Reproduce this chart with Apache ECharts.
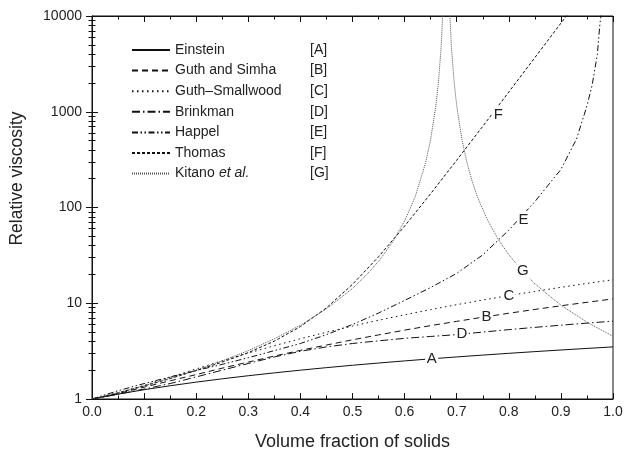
<!DOCTYPE html>
<html>
<head>
<meta charset="utf-8">
<script src="https://cdn.jsdelivr.net/npm/echarts@6/dist/echarts.min.js"></script>
<style>
html,body{margin:0;padding:0;background:#fff}
#container{width:627px;height:460px}
</style>
</head>
<body>
<div id="container"></div>
<script>
var names=['Einstein','Guth and Simha','Guth\u2013Smallwood','Brinkman','Happel','Thomas','Kitano et al.'];
var tags=['[A]','[B]','[C]','[D]','[E]','[F]','[G]'];
var letters=['A','B','C','D','E','F','G'];

// volume fraction grid for the smooth curves
var phi=[0,0.05,0.1,0.15,0.2,0.25,0.3,0.35,0.4,0.45,0.5,0.55,0.6,0.65,0.7,0.75,0.8,0.85,0.9,0.95,1.0];
var einstein=[1,1.125,1.25,1.375,1.5,1.625,1.75,1.875,2.0,2.125,2.25,2.375,2.5,2.625,2.75,2.875,3.0,3.125,3.25,3.375,3.5];
var guthSimha=[1,1.14,1.33,1.55,1.80,2.10,2.43,2.81,3.22,3.66,4.15,4.67,5.24,5.84,6.47,7.15,7.86,8.62,9.41,10.23,11.1];
var guthSmall=[1,1.16,1.39,1.69,2.06,2.51,3.02,3.60,4.26,4.98,5.78,6.64,7.58,8.58,9.66,10.81,12.02,13.31,14.67,16.10,17.6];
var brinkman=[1,1.12,1.27,1.45,1.7,2.0,2.35,2.75,3.15,3.5,3.8,4.05,4.3,4.5,4.7,5.0,5.3,5.6,5.9,6.2,6.5];

var phiE=[0,0.05,0.1,0.15,0.2,0.25,0.3,0.35,0.4,0.45,0.5,0.55,0.6,0.65,0.7,0.75,0.8,0.85,0.9,0.93,0.95,0.96,0.97,0.975,0.98];
var happel=[1,1.22,1.45,1.7,1.98,2.3,2.7,3.2,3.8,4.7,6.0,7.9,10.7,14.6,20.5,32,58,115,250,520,1150,1900,4000,8400,13000];

var phiF=[0,0.05,0.1,0.15,0.2,0.25,0.3,0.35,0.4,0.45,0.5,0.55,0.6,0.65,0.7,0.75,0.8,0.85,0.9,0.92];
var thomas=[1,1.156,1.365,1.634,1.98,2.43,3.05,4.02,5.70,8.95,15.75,30.6,63.9,139.4,311.7,705,1606,3675,8412,11713];

var phiG1=[0,0.05,0.1,0.15,0.2,0.25,0.3,0.35,0.4,0.45,0.5,0.525,0.55,0.575,0.6,0.62,0.64,0.65,0.66,0.665,0.67,0.674];
var kitano1=[1,1.165,1.375,1.646,2.007,2.50,3.20,4.25,5.90,8.74,14.27,19.3,27.4,42,72.3,128,289,514,1156,2055,4624,12800];
var phiG2=[0.686,0.69,0.695,0.7,0.71,0.72,0.73,0.74,0.76,0.78,0.8,0.825,0.85,0.875,0.9,0.95,1.0];
var kitano2=[12800,4624,2055,1156,514,289,185,128,72.3,46.2,32.1,22.1,16,12.3,9.55,6.34,4.52];

// where the curve letters sit (data coords)
var labelX=[0.652,0.757,0.80,0.71,0.828,0.78,0.827];
var labelY=[2.62,7.25,12.0,4.75,75,930,22];

// major ticks of the log axis
var yMajor=[1,10,100,1000,10000];

var dashes=['solid',[6,4],[1.5,3.5],[8,3,1.5,3],[6,2.5,1.5,2.5,1.5,2.5],[3,2],[1,1]];
var colors=['#111','#111','#111','#111','#111','#111','#555'];

function pairs(xs,ys){
    var out=[];
    for(var i=0;i<xs.length;i++) out.push([xs[i],ys[i]]);
    return out;
}

var curves=[
    pairs(phi,einstein),
    pairs(phi,guthSimha),
    pairs(phi,guthSmall),
    pairs(phi,brinkman),
    pairs(phiE,happel),
    pairs(phiF,thomas),
    pairs(phiG1,kitano1).concat([[0.68,'-']]).concat(pairs(phiG2,kitano2))
];

var series=[];
for(var i=0;i<names.length;i++){
    series.push({
        name:names[i],
        type:'line',
        data:curves[i],
        symbol:'none',
        showSymbol:false,
        smooth:false,
        connectNulls:false,
        lineStyle:{color:colors[i],width:1,type:dashes[i]},
        itemStyle:{color:colors[i]},
        markPoint:{
            z:10,
            symbol:'rect',
            symbolSize:[13,17],
            itemStyle:{color:'#fff'},
            label:{show:true,position:'inside',formatter:letters[i],color:'#222',fontSize:15,fontFamily:'Liberation Sans'},
            data:[{coord:[labelX[i],labelY[i]]}]
        }
    });
}

var font='Liberation Sans';
var dom=document.getElementById('container');
var myChart=echarts.init(dom,null,{renderer:'canvas'});

function logAxis(pos){
    return {
        type:'log',logBase:10,min:1,max:10000,position:pos,
        axisLine:{show:true,lineStyle:{color:'#111'}},
        axisTick:{show:true,inside:true,length:6,customValues:yMajor,lineStyle:{color:'#111'}},
        minorTick:{show:true,splitNumber:9,length:3.5,lineStyle:{color:'#111'}},
        splitLine:{show:false},
        axisLabel:{show:false}
    };
}

var yLeft=logAxis('left');
yLeft.name='Relative viscosity';
yLeft.nameLocation='middle';
yLeft.nameGap=66;
yLeft.nameTextStyle={fontSize:17.5,color:'#222',fontFamily:font,padding:[0,0,0,58]};
yLeft.axisLabel={show:true,fontSize:14,color:'#222',margin:10,customValues:yMajor,
    formatter:function(v){return String(Math.round(v));}};

var option={
    animation:false,
    backgroundColor:'#fff',
    textStyle:{fontFamily:font},
    grid:{left:91,right:14,top:16,bottom:61,show:true,borderColor:'#111',borderWidth:1},
    legend:{
        orient:'vertical',
        left:131,
        top:43,
        padding:0,
        itemWidth:38,
        itemHeight:14,
        itemGap:6.6,
        data:names,
        itemStyle:{color:'transparent',borderColor:'transparent',borderWidth:0},
        textStyle:{fontSize:14,color:'#222',fontFamily:font,
            rich:{
                n:{width:135,fontSize:14,color:'#222',fontFamily:font},
                k:{width:44,fontSize:14,color:'#222',fontFamily:font},
                it:{width:91,fontSize:14,color:'#222',fontStyle:'italic',fontFamily:font},
                t:{fontSize:14,color:'#222',fontFamily:font}
            }
        },
        formatter:function(name){
            var i=names.indexOf(name);
            if(name==='Kitano et al.') return '{k|Kitano }{it|et al.}{t|'+tags[i]+'}';
            return '{n|'+name+'}{t|'+tags[i]+'}';
        }
    },
    xAxis:[{
        type:'value',min:0,max:1,interval:0.1,
        name:'Volume fraction of solids',nameLocation:'middle',nameGap:34,
        nameTextStyle:{fontSize:18,color:'#222',fontFamily:font},
        axisLine:{lineStyle:{color:'#111'}},
        axisTick:{inside:true,length:6,lineStyle:{color:'#111'}},
        minorTick:{show:true,splitNumber:2,length:3.5,lineStyle:{color:'#111'}},
        splitLine:{show:false},
        axisLabel:{fontSize:14,color:'#222',margin:6,formatter:function(v){return v.toFixed(1);}}
    },{
        type:'value',min:0,max:1,interval:0.1,position:'top',
        axisLine:{lineStyle:{color:'#111'}},
        axisTick:{inside:true,length:6,lineStyle:{color:'#111'}},
        minorTick:{show:true,splitNumber:2,length:3.5,lineStyle:{color:'#111'}},
        splitLine:{show:false},
        axisLabel:{show:false}
    }],
    yAxis:[yLeft,logAxis('right')],
    series:series
};

myChart.setOption(option);
</script>
</body>
</html>
